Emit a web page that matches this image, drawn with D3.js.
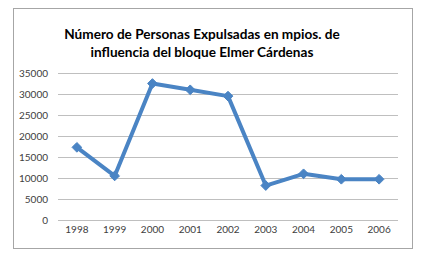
<!DOCTYPE html>
<html>
<head>
<meta charset="utf-8">
<script src="https://cdn.jsdelivr.net/npm/d3@7"></script>
<style>
  body { margin: 0; background: #fff; }
</style>
</head>
<body>
<svg id="chart"></svg>
<script>
// Data
let years = ["1998", "1999", "2000", "2001", "2002", "2003", "2004", "2005", "2006"];
let expulsados = [17300, 10500, 32500, 31000, 29500, 8200, 11000, 9700, 9700];
let yTicks = [0, 5000, 10000, 15000, 20000, 25000, 30000, 35000];
let titleLines = ["Número de Personas Expulsadas en mpios. de", "influencia del bloque Elmer Cárdenas"];

// Colors
let lineBlue = "#4a84c4";
let gridGray = "#bfbfbf";
let textGray = "#404040";

let width = 428;
let height = 260;

let svg = d3.select("#chart")
  .attr("width", width)
  .attr("height", height);

svg.append("rect")
  .attr("x", 13.5)
  .attr("y", 8.5)
  .attr("width", 399)
  .attr("height", 240)
  .attr("fill", "white")
  .attr("stroke", "#a6a6a6")
  .attr("stroke-width", 1);

svg.append("g")
  .selectAll("text")
  .data(titleLines)
  .join("text")
    .attr("x", 202)
    .attr("y", (d, i) => 39 + i * 18)
    .attr("text-anchor", "middle")
    .attr("font-family", "Lato, sans-serif")
    .attr("font-weight", "bold")
    .attr("font-size", 13.6)
    .attr("fill", "black")
    .text(d => d);

let xax = d3.scaleBand()
  .domain(years)
  .range([58, 398]);
let yax = d3.scaleLinear()
  .domain([0, 35000])
  .range([220, 73]);

// gridlines
svg.append("g")
  .selectAll("line")
  .data(yTicks)
  .join("line")
    .attr("x1", 58)
    .attr("x2", 398)
    .attr("y1", d => Math.round(yax(d)) + 0.5)
    .attr("y2", d => Math.round(yax(d)) + 0.5)
    .attr("stroke", gridGray)
    .attr("stroke-width", 1);

let yAxis = d3.axisLeft(yax)
  .tickValues(yTicks)
  .tickSize(0)
  .tickPadding(10)
  .tickFormat(d => d);
svg.append("g")
  .attr("transform", "translate(58, 0)")
  .call(yAxis)
  .call(g => g.select(".domain").remove())
  .selectAll("text")
    .attr("font-family", "Lato, sans-serif")
    .attr("font-size", 10)
    .attr("fill", textGray);

let xAxis = d3.axisBottom(xax)
  .tickSize(0)
  .tickPadding(6);
svg.append("g")
  .attr("transform", "translate(0, 220)")
  .call(xAxis)
  .call(g => g.select(".domain").remove())
  .selectAll("text")
    .attr("font-family", "Lato, sans-serif")
    .attr("font-size", 10)
    .attr("fill", textGray);

let line = d3.line()
  .x((d, i) => xax(years[i]) + xax.bandwidth() / 2)
  .y(d => yax(d));

svg.append("path")
  .attr("d", line(expulsados))
  .attr("fill", "none")
  .attr("stroke", lineBlue)
  .attr("stroke-width", 4)
  .attr("stroke-linejoin", "round")
  .attr("stroke-linecap", "round");

let diamond = d3.symbol().type(d3.symbolDiamond2).size(60);
svg.append("g")
  .selectAll("path")
  .data(expulsados)
  .join("path")
    .attr("d", diamond)
    .attr("transform", (d, i) => `translate(${xax(years[i]) + xax.bandwidth() / 2}, ${yax(d)})`)
    .attr("fill", lineBlue)
    .attr("stroke", lineBlue)
    .attr("stroke-width", 1);
</script>
</body>
</html>
